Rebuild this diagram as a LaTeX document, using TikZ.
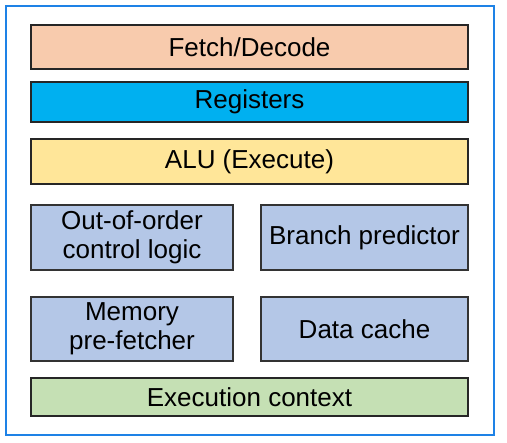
\documentclass[tikz,border=0pt]{standalone}
\usepackage{fontspec}
\setmainfont{Liberation Sans}
\definecolor{peach}{HTML}{F8CBAD}
\definecolor{regblue}{HTML}{00B0F0}
\definecolor{aluyel}{HTML}{FFE699}
\definecolor{peri}{HTML}{B4C7E7}
\definecolor{ctxgreen}{HTML}{C5E0B4}
\definecolor{frameblue}{RGB}{30,130,230}
\begin{document}
\begin{tikzpicture}[x=1pt,y=-1pt,
  basebox/.style={rectangle, inner sep=0pt, align=center,
    font=\fontsize{26}{29}\selectfont, text=black},
  widebox/.style={basebox, draw=black!85, line width=2pt, minimum width=437pt},
  halfbox/.style={basebox, draw=black!80, line width=1.2pt, fill=peri}]
\useasboundingbox (0,0) rectangle (507,443);
\draw[frameblue, line width=1.5pt] (6,6) rectangle (494,435);
\node[widebox, fill=peach, minimum height=44pt] (fetch) at (249.5,47) {Fetch/Decode};
\node[widebox, fill=regblue, minimum height=40pt] (reg) at (249.5,102) {Registers};
\node[widebox, fill=aluyel, minimum height=45pt] (alu) at (249.5,161.5) {ALU (Execute)};
\node[halfbox, minimum width=202pt, minimum height=65pt] (ooo) at (132,237.5) {Out-of-order\\control logic};
\node[halfbox, minimum width=207pt, minimum height=65pt] (bp) at (364.5,237.5) {Branch predictor};
\node[halfbox, minimum width=202pt, minimum height=64pt] (mem) at (132,329) {Memory\\pre-fetcher};
\node[halfbox, minimum width=207pt, minimum height=64pt] (dc) at (364.5,329) {Data cache};
\node[basebox, draw=black!85, line width=1.5pt, fill=ctxgreen, minimum width=437pt, minimum height=38pt] (ctx) at (249.5,397) {Execution context};
\end{tikzpicture}
\end{document}
